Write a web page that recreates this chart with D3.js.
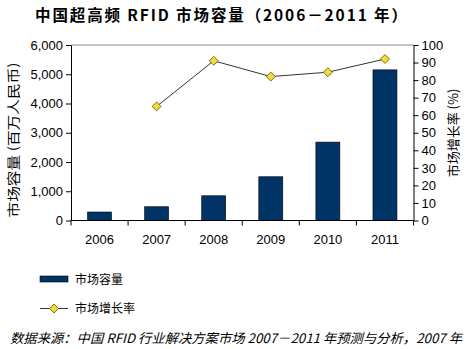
<!DOCTYPE html>
<html><head><meta charset="utf-8">
<script src="https://cdn.jsdelivr.net/npm/d3@7"></script>
<style>body{margin:0;background:#fff}svg{display:block}</style>
</head><body>
<svg id="c" width="476" height="349"></svg>
<script>
const years = ["2006","2007","2008","2009","2010","2011"];
const marketSize = [290, 470, 845, 1495, 2680, 5150];
const growthYears = ["2007","2008","2009","2010","2011"];
const growthRate = [65, 91, 82, 84.5, 92];
const leftTicks = [0,1000,2000,3000,4000,5000,6000];
const rightTicks = [0,10,20,30,40,50,60,70,80,90,100];

const svg = d3.select("#c");
const font = "'Liberation Sans', Arial, sans-serif";
const cjk = "'Noto Sans CJK SC', sans-serif";
const L = 71, R = 413.5, T = 45, B = 220.5;

const x = d3.scaleBand().domain(years).range([L, R]).paddingInner(0.58).paddingOuter(0.29);
const xb = d3.scaleBand().domain(years).range([L, R]);
const yL = d3.scaleLinear().domain([0,6000]).range([B, T]);
const yR = d3.scaleLinear().domain([0,100]).range([B, T]);

// title
svg.append("text").attr("x", 35).attr("y", 21).attr("font-family", cjk).attr("font-weight", "bold")
  .attr("font-size", 15.5).attr("fill", "#000")
  .attr("textLength", 372).attr("lengthAdjust", "spacing")
  .text("中国超高频 RFID 市场容量（2006－2011 年）");

// top gridline
svg.append("line").attr("x1", L).attr("x2", R).attr("y1", yL(6000)).attr("y2", yL(6000)).attr("stroke", "#888");

// bars
svg.selectAll("rect.bar").data(marketSize).join("rect").attr("class","bar")
  .attr("x", (d,i)=>x(years[i])).attr("width", x.bandwidth())
  .attr("y", d=>yL(d)).attr("height", d=>B - yL(d))
  .attr("fill", "#003366").attr("stroke", "#000").attr("stroke-width", 0.6);

// axes
const ax = svg.append("g").attr("transform", `translate(${L},0)`)
  .call(d3.axisLeft(yL).tickValues(leftTicks).tickFormat(d3.format(",")).tickSize(5).tickSizeOuter(0));
const ar = svg.append("g").attr("transform", `translate(${R},0)`)
  .call(d3.axisRight(yR).tickValues(rightTicks).tickSize(5).tickSizeOuter(0));
const axB = svg.append("g").attr("transform", `translate(0,${B})`)
  .call(d3.axisBottom(xb).tickSize(0).tickPadding(14));
// x category ticks at band boundaries
svg.selectAll("line.xt").data(years.concat(["end"])).join("line").attr("class","xt")
  .attr("x1", (d,i)=> L + i*xb.bandwidth()).attr("x2", (d,i)=> L + i*xb.bandwidth())
  .attr("y1", B).attr("y2", B+5).attr("stroke", "#000");
[ax, ar, axB].forEach(g => {
  g.selectAll("path,line").attr("stroke", "#000");
  g.selectAll("text").attr("font-family", font).attr("font-size", 13).attr("fill", "#000");
});
axB.select("path").attr("d", `M${L},0H${R}`);

// line
const cx = (i)=> xb(growthYears[i]) + xb.bandwidth()/2;
const lineGen = d3.line().x((d,i)=>cx(i)).y(d=>yR(d));
svg.append("path").datum(growthRate).attr("d", lineGen).attr("fill","none").attr("stroke","#333").attr("stroke-width",1);
svg.selectAll("path.pt").data(growthRate).join("path").attr("class","pt")
  .attr("d", d3.symbol().type(d3.symbolSquare).size(40))
  .attr("transform", (d,i)=>`translate(${cx(i)},${yR(d)}) rotate(45)`)
  .attr("fill", "#f0dc3c").attr("stroke", "#6b5a00").attr("stroke-width", 0.8);

// axis titles
svg.append("text").attr("transform", "translate(18,140) rotate(-90)").attr("text-anchor","middle")
  .attr("font-family", cjk).attr("font-size", 13).attr("fill","#000")
  .attr("textLength", 155).attr("lengthAdjust","spacingAndGlyphs").text("市场容量 (百万人民币)");
svg.append("text").attr("transform", "translate(458,133) rotate(-90)").attr("text-anchor","middle")
  .attr("font-family", cjk).attr("font-size", 13).attr("fill","#000").text("市场增长率 (%)");

// legend
svg.append("rect").attr("x", 40).attr("y", 276).attr("width", 28).attr("height", 6).attr("fill", "#003366").attr("stroke","#000").attr("stroke-width",0.6);
svg.append("text").attr("x", 75).attr("y", 284).attr("font-family", cjk).attr("font-size", 12).attr("fill","#000").text("市场容量");
svg.append("line").attr("x1", 40).attr("x2", 68).attr("y1", 308.5).attr("y2", 308.5).attr("stroke", "#333");
svg.append("path").attr("d", d3.symbol().type(d3.symbolSquare).size(40)).attr("transform","translate(54,308.5) rotate(45)")
  .attr("fill", "#f0dc3c").attr("stroke", "#6b5a00").attr("stroke-width", 0.8);
svg.append("text").attr("x", 75).attr("y", 313).attr("font-family", cjk).attr("font-size", 12).attr("fill","#000").text("市场增长率");

// source
svg.append("text").attr("x", 10).attr("y", 343).attr("font-family", cjk).attr("font-style","italic").attr("font-size", 13).attr("fill","#000")
  .attr("textLength", 452).attr("lengthAdjust","spacingAndGlyphs")
  .text("数据来源：中国 RFID 行业解决方案市场 2007－2011 年预测与分析，2007 年");
</script>
</body></html>
